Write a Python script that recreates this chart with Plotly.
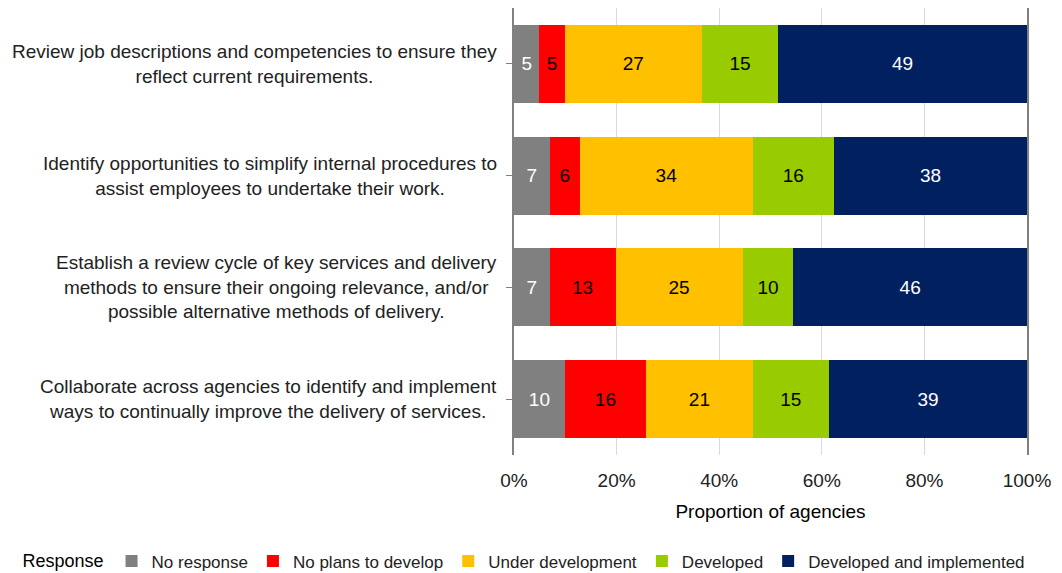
import plotly.graph_objects as go

categories = [
    "Review job descriptions and competencies to ensure they<br>reflect current requirements.",
    "Identify opportunities to simplify internal procedures to<br>assist employees to undertake their work.",
    "Establish a review cycle of key services and delivery<br>methods to ensure their ongoing relevance, and/or<br>possible alternative methods of delivery.",
    "Collaborate across agencies to identify and implement<br>ways to continually improve the delivery of services.",
]
series_names = ["No response", "No plans to develop", "Under development", "Developed", "Developed and implemented"]
no_response = [5, 7, 7, 10]
no_plans = [5, 6, 13, 16]
under_dev = [27, 34, 25, 21]
developed = [15, 16, 10, 15]
dev_impl = [49, 38, 46, 39]
series_values = [no_response, no_plans, under_dev, developed, dev_impl]
colors = ["#808080", "#FF0000", "#FFC000", "#99CC00", "#002060"]
text_colors = ["white", "black", "black", "black", "white"]
tick_vals = [0, 20, 40, 60, 80, 100]
tick_text = ["0%", "20%", "40%", "60%", "80%", "100%"]

FONT = "Liberation Sans"
fig = go.Figure()
keys = list(range(len(categories)))
for name, vals, c, tc in zip(series_names, series_values, colors, text_colors):
    fig.add_trace(go.Bar(
        y=keys, x=vals, name=name, orientation="h",
        marker=dict(color=c, line=dict(width=0)),
        text=[str(v) for v in vals], textposition="inside",
        insidetextanchor="middle",
        textfont=dict(color=tc, size=19, family=FONT),
        constraintext="none",
    ))

for k, cat in zip(keys, categories):
    fig.add_annotation(x=-0.029, xref="paper", y=k, yref="y", text=cat,
                       showarrow=False, xanchor="right", yanchor="middle",
                       align="center", font=dict(size=19, color="#222", family=FONT))

# page body has an 8px margin, so the figure is sized/offset to compensate
fig.update_layout(
    barmode="stack", barnorm="percent", bargap=0.30,
    width=1054, height=565,
    margin=dict(l=506, r=35, t=0, b=118, autoexpand=False),
    plot_bgcolor="white", paper_bgcolor="white",
    font=dict(family=FONT, size=18, color="#222"),
    showlegend=True,
    legend=dict(orientation="h", x=-0.962, xanchor="left", y=-0.238, yanchor="middle",
                title=dict(text="Response", side="left", font=dict(size=18, color="black")),
                font=dict(size=17, color="#222"), itemwidth=30, traceorder="normal",
                tracegroupgap=0),
)
fig.update_xaxes(range=[0, 100], tickvals=tick_vals, ticktext=tick_text,
                 showgrid=True, gridcolor="#D9D9D9", gridwidth=1,
                 showline=False, zeroline=False, ticks="outside", ticklen=8,
                 tickcolor="rgba(0,0,0,0)",
                 tickfont=dict(size=19, color="#222"),
                 title=dict(text="Proportion of agencies", font=dict(size=19, color="black"), standoff=14))
fig.update_yaxes(tickvals=keys, range=[3.5, -0.5], showticklabels=False,
                 showline=True, linecolor="#808080", linewidth=2, mirror=True,
                 ticks="outside", tickson="boundaries", ticklen=6, tickcolor="#808080",
                 showgrid=False, zeroline=False)

fig.write_html("out.html")
